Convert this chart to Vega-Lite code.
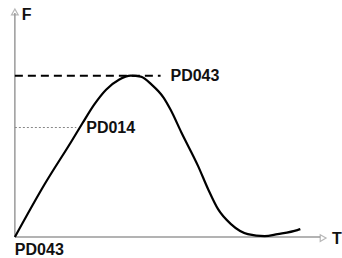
{
  "$schema": "https://vega.github.io/schema/vega-lite/v6.json",
  "width": 342,
  "height": 258,
  "padding": 0,
  "autosize": {"type": "fit", "contains": "padding"},
  "background": "white",
  "config": {"view": {"stroke": null}},
  "datasets": {
    "curve": [
      {"t": 0, "f": 0}, {"t": 30, "f": 53}, {"t": 57, "f": 96}, {"t": 68, "f": 114},
      {"t": 80, "f": 133}, {"t": 92, "f": 148}, {"t": 105, "f": 158}, {"t": 117, "f": 162},
      {"t": 127, "f": 161}, {"t": 138, "f": 153}, {"t": 150, "f": 140}, {"t": 157, "f": 128},
      {"t": 168, "f": 105}, {"t": 185, "f": 71}, {"t": 195, "f": 48}, {"t": 205, "f": 28},
      {"t": 218, "f": 13}, {"t": 235, "f": 3}, {"t": 252, "f": 1}, {"t": 265, "f": 3},
      {"t": 285, "f": 7}, {"t": 288, "f": 8}
    ],
    "axes": [
      {"t": 0, "t2": 0, "f": 0, "f2": 225},
      {"t": 0, "t2": 308, "f": 0, "f2": 0}
    ],
    "arrows": [
      {"t": 0, "f": 226, "shape": "triangle-up"},
      {"t": 311, "f": -1, "shape": "triangle-right"}
    ],
    "peak": [{"t": 0, "t2": 147, "f": 162}],
    "mid": [{"t": 0, "t2": 62, "f": 110}],
    "labels": [
      {"t": 157, "f": 162, "label": "PD043"},
      {"t": 72, "f": 110, "label": "PD014"},
      {"t": 0, "f": -13, "label": "PD043"},
      {"t": 7, "f": 223, "label": "F"},
      {"t": 320, "f": -2, "label": "T"}
    ]
  },
  "layer": [
    {
      "data": {"name": "axes"},
      "mark": {"type": "rule", "color": "#9a9a9a", "strokeWidth": 1.5},
      "encoding": {
        "x": {"field": "t", "type": "quantitative", "scale": {"domain": [-15, 327], "nice": false, "zero": false}, "axis": null},
        "x2": {"field": "t2"},
        "y": {"field": "f", "type": "quantitative", "scale": {"domain": [-20, 238], "nice": false, "zero": false}, "axis": null},
        "y2": {"field": "f2"}
      }
    },
    {
      "data": {"name": "arrows"},
      "mark": {"type": "point", "filled": false, "color": "#9a9a9a", "strokeWidth": 1.2, "size": 45},
      "encoding": {
        "x": {"field": "t", "type": "quantitative"},
        "y": {"field": "f", "type": "quantitative"},
        "shape": {"field": "shape", "type": "nominal", "scale": null}
      }
    },
    {
      "data": {"name": "peak"},
      "mark": {"type": "rule", "color": "black", "strokeWidth": 2, "strokeDash": [8, 5]},
      "encoding": {
        "x": {"field": "t", "type": "quantitative"},
        "x2": {"field": "t2"},
        "y": {"field": "f", "type": "quantitative"}
      }
    },
    {
      "data": {"name": "mid"},
      "mark": {"type": "rule", "color": "#888888", "strokeWidth": 1, "strokeDash": [2, 2]},
      "encoding": {
        "x": {"field": "t", "type": "quantitative"},
        "x2": {"field": "t2"},
        "y": {"field": "f", "type": "quantitative"}
      }
    },
    {
      "data": {"name": "curve"},
      "mark": {"type": "line", "color": "black", "strokeWidth": 2.2, "interpolate": "monotone"},
      "encoding": {
        "x": {"field": "t", "type": "quantitative"},
        "y": {"field": "f", "type": "quantitative"}
      }
    },
    {
      "data": {"name": "labels"},
      "mark": {"type": "text", "align": "left", "baseline": "middle", "font": "Liberation Sans", "fontWeight": "bold", "fontSize": 16, "color": "#111111"},
      "encoding": {
        "x": {"field": "t", "type": "quantitative"},
        "y": {"field": "f", "type": "quantitative"},
        "text": {"field": "label", "type": "nominal"}
      }
    }
  ]
}
